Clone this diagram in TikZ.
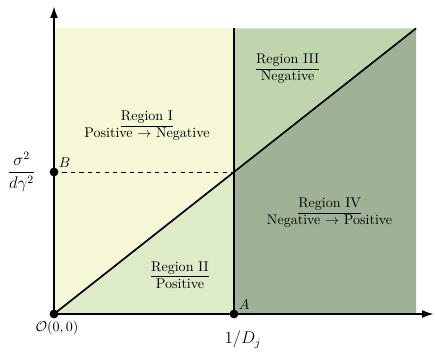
\documentclass[tikz,border=0pt]{standalone}
\usepackage{amsmath,amssymb}
\usetikzlibrary{arrows.meta,positioning,backgrounds}
\definecolor{regI}{RGB}{245,247,214}
\definecolor{regII}{RGB}{222,235,200}
\definecolor{regIII}{RGB}{191,213,173}
\definecolor{regIV}{RGB}{158,178,152}
\tikzset{
  axis/.style={-{Latex[length=3mm,width=2mm]}, line width=1.4pt},
  border/.style={line width=1.2pt},
  guide/.style={dashed, line width=0.6pt},
  dot/.style={circle, fill=black, inner sep=0pt, minimum size=2.2mm},
  region/.style={align=center, inner sep=1pt},
}

\begin{document}
\begin{tikzpicture}
    \useasboundingbox (-1.35,-0.95) rectangle (9.525,7.85);
    \coordinate (O) at (0,0);
    \coordinate (A) at (4.5,0);
    \coordinate (B) at (0,3.55);
    \coordinate (C) at (4.5,3.55);
    \coordinate (T0) at (0,7.14);
    \coordinate (T1) at (4.5,7.14);
    \coordinate (T2) at (9.05,7.14);
    \coordinate (R) at (9.05,0);
    \coordinate (xend) at (9.5,0);
    \coordinate (yend) at (0,7.7);
    % the four regions
    \fill[regI] (O) -- (C) -- (T1) -- (T0) -- cycle;
    \fill[regII] (O) -- (A) -- (C) -- cycle;
    \fill[regIII] (C) -- (T1) -- (T2) -- cycle;
    \fill[regIV] (A) -- (R) -- (T2) -- (C) -- cycle;
    \draw[guide] (B) -- (C);
    \draw[border] (A) -- (T1);
    \draw[border] (O) -- (T2);
    \draw[axis] (O) -- (xend);
    \draw[axis] (O) -- (yend);
    \node[dot] (dO) at (O) {};
    \node[dot] (dA) at (A) {};
    \node[dot] (dB) at (B) {};
    \node[above right] (lB) at (B) {$B$};
    \node[above right] (lA) at (A) {$A$};
    \node (lO) at (0.075,-0.36) {$\mathcal{O}(0,0)$};
    \node[font=\large] (lDj) at (4.72,-0.65) {$1/D_j$};
    \node[font=\large] (lsig) at (-0.81,3.55) {$\dfrac{\sigma^2}{d\gamma^2}$};
    \node[region] (rI) at (2.325,4.7) {\underline{Region I}\\Positive $\to$ Negative};
    \node[region] (rII) at (3.15,0.975) {\underline{Region II}\\Positive};
    \node[region] (rIII) at (5.84,6.125) {\underline{Region III}\\Negative};
    \node[region] (rIV) at (6.89,2.525) {\underline{Region IV}\\Negative $\to$ Positive};
\end{tikzpicture}
\end{document}
